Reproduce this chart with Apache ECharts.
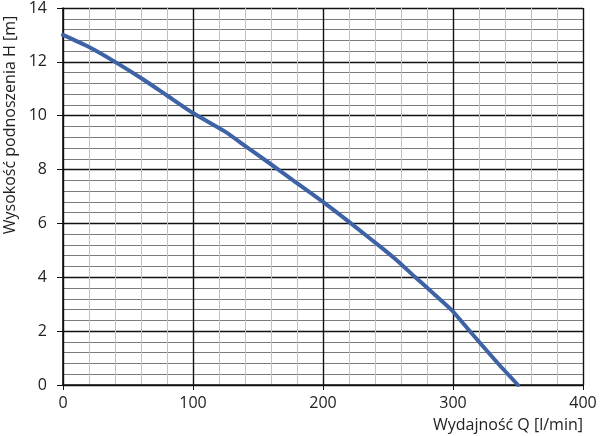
<!DOCTYPE html>
<html>
<head>
<meta charset="utf-8">
<script src="https://cdn.jsdelivr.net/npm/echarts@6/dist/echarts.min.js"></script>
<style>
    html, body { margin: 0; padding: 0; background: #fff; }
    #pumpChart { width: 600px; height: 436px; }
</style>
</head>
<body>
<div id="pumpChart"></div>
<script>
// wydajność Q [l/min] i wysokość podnoszenia H [m]
var flowQ = [0, 20, 40, 60, 80, 100, 125, 140, 157, 177, 200, 221, 245, 258, 271, 285, 299, 312, 321, 335, 350];
var headH = [13.0, 12.55, 12.0, 11.4, 10.75, 10.1, 9.4, 8.88, 8.3, 7.6, 6.8, 6.02, 5.1, 4.58, 4.0, 3.4, 2.78, 2.05, 1.55, 0.78, 0];

var xTicks = [0, 100, 200, 300, 400];
var yTicks = [0, 2, 4, 6, 8, 10, 12, 14];

var fontName = '"Open Sans", "DejaVu Sans", sans-serif';

var points = flowQ.map(function (q, i) { return [q, headH[i]]; });

var chart = echarts.init(document.getElementById('pumpChart'));
chart.setOption({
    animation: false,
    grid: { left: 63, right: 17, top: 7, bottom: 51 },
    xAxis: {
        type: 'value',
        min: xTicks[0],
        max: xTicks[xTicks.length - 1],
        interval: 100,
        axisLine: { show: true, lineStyle: { color: '#111', width: 1.6 } },
        axisTick: { show: true, length: 5, lineStyle: { color: '#111' } },
        axisLabel: { margin: 10, fontSize: 16, color: '#222', fontFamily: fontName },
        splitLine: { show: true, lineStyle: { color: '#111', width: 1.4 } },
        minorTick: { show: false, splitNumber: 5 },
        minorSplitLine: { show: true, lineStyle: { color: '#c0c0c0', width: 1 } }
    },
    yAxis: {
        type: 'value',
        min: yTicks[0],
        max: yTicks[yTicks.length - 1],
        interval: 2,
        axisLine: { show: true, lineStyle: { color: '#111', width: 1.6 } },
        axisTick: { show: true, length: 6, lineStyle: { color: '#111' } },
        axisLabel: { margin: 16, fontSize: 16, color: '#222', fontFamily: fontName },
        splitLine: { show: true, lineStyle: { color: '#111', width: 1.4 } },
        minorTick: { show: false, splitNumber: 5 },
        minorSplitLine: { show: true, lineStyle: { color: '#7a7a7a', width: 1.2 } }
    },
    graphic: [
        {
            type: 'text',
            x: 10, y: 125,
            rotation: Math.PI / 2,
            style: {
                text: 'Wysokość podnoszenia H [m]',
                fill: '#222',
                font: '16px ' + fontName,
                align: 'center',
                verticalAlign: 'middle'
            }
        },
        {
            type: 'text',
            x: 583, y: 425,
            style: {
                text: 'Wydajność Q [l/min]',
                fill: '#222',
                font: '16px ' + fontName,
                align: 'right',
                verticalAlign: 'middle'
            }
        }
    ],
    series: [{
        type: 'line',
        data: points,
        smooth: 0.2,
        showSymbol: false,
        lineStyle: { color: '#3e62a6', width: 4, join: 'round', cap: 'round' }
    }]
});
</script>
</body>
</html>
